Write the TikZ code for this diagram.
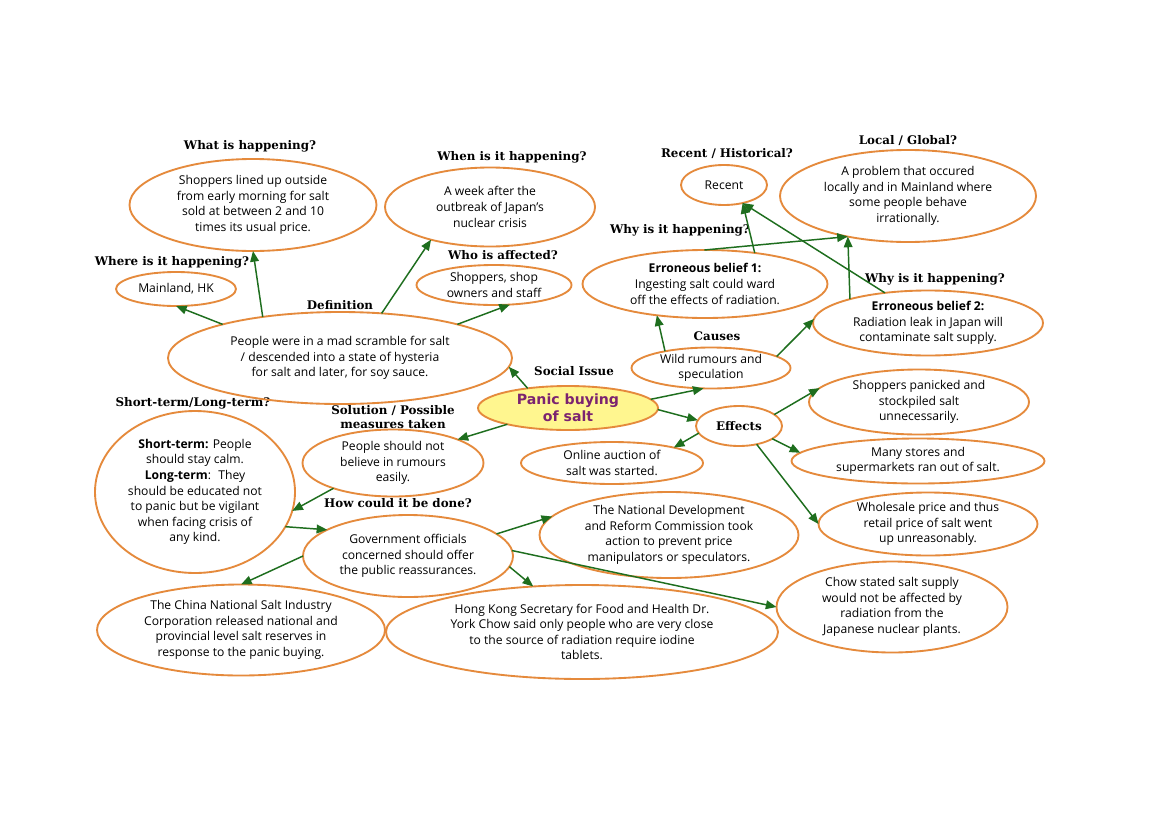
\documentclass[tikz,border=0pt]{standalone}
\usepackage{fontspec}
\setmainfont{Open Sans}
\newfontfamily\lblfont{DejaVu Serif}
\newfontfamily\panicfont{DejaVu Sans}
\usetikzlibrary{shapes.geometric,arrows.meta}
\definecolor{orng}{HTML}{E58A3C}
\definecolor{arrg}{HTML}{1E6E1E}
\definecolor{purp}{HTML}{7B2370}
\definecolor{yel}{HTML}{FFF68F}
\begin{document}
\begin{tikzpicture}[x=0.75pt,y=-0.75pt,
  ell/.style 2 args={ellipse, draw=orng, line width=1.4pt, minimum width=#1*0.75pt, minimum height=#2*0.75pt, inner sep=0pt, outer sep=0pt},
  txt/.style={font=\fontsize{9.1}{11.7}\selectfont, align=center, inner sep=0pt, text=black},
  lbl/.style={font=\lblfont\bfseries\fontsize{8.9}{10.6}\selectfont, align=center, inner sep=0pt, text=black},
  ptxt/.style={font=\panicfont\bfseries\fontsize{10.6}{12.8}\selectfont, align=center, inner sep=0pt, text=purp},
  arr/.style={draw=arrg, line width=1.1pt, -{Triangle[length=8pt,width=6.5pt]}},
]
\fill[white] (0,0) rectangle (1169,821);
\useasboundingbox (0,0) rectangle (1169,821);

% question labels
\node[lbl] (q1) at (250,146) {What is happening?};
\node[lbl] (q2) at (172,262) {Where is it happening?};
\node[lbl] (q3) at (512,157) {When is it happening?};
\node[lbl] (q4) at (503,255) {Who is affected?};
\node[lbl] (q5) at (340,305) {Definition};
\node[lbl] (q6) at (727,154) {Recent / Historical?};
\node[lbl] (q7) at (908,141) {Local / Global?};
\node[lbl] (q8) at (680,230) {Why is it happening?};
\node[lbl] (q9) at (935,279) {Why is it happening?};
\node[lbl] (q10) at (717,336) {Causes};
\node[lbl] (q11) at (574,371) {Social Issue};
\node[lbl] (q12) at (193,403) {Short-term/Long-term?};
\node[lbl] (q13) at (393,417) {Solution / Possible\\measures taken};
\node[lbl] (q14) at (398,503) {How could it be done?};

% ellipses
\node[ell={247}{92}, label={[txt]center:{Shoppers lined up outside\\from early morning for salt\\sold at between 2 and 10\\times its usual price.}}] (what) at (253,205) {};
\node[ell={120}{34}, label={[txt]center:{Mainland, HK}}] (mainland) at (176,289) {};
\node[ell={210}{79}, label={[txt]center:{A week after the\\outbreak of Japan's\\nuclear crisis}}] (when) at (490,207) {};
\node[ell={155}{40}, label={[txt]center:{Shoppers, shop\\owners and staff}}] (who) at (494,285) {};
\node[ell={344}{92}, label={[txt]center:{People were in a mad scramble for salt\\/ descended into a state of hysteria\\for salt and later, for soy sauce.}}] (def) at (340,358) {};
\node[ell={86}{40}, label={[txt]center:{Recent}}] (recent) at (724,185) {};
\node[ell={256}{92}, label={[txt]center:{A problem that occured\\locally and in Mainland where\\some people behave\\irrationally.}}] (local) at (908,196) {};
\node[ell={245}{68}, label={[txt]center:{\textbf{Erroneous belief 1:}\\Ingesting salt could ward\\off the effects of radiation.}}] (bel1) at (705,284) {};
\node[ell={230}{65}, label={[txt]center:{\textbf{Erroneous belief 2:}\\Radiation leak in Japan will\\contaminate salt supply.}}] (bel2) at (928,323) {};
\node[ell={159}{41}, label={[txt]center:{Wild rumours and\\speculation}}] (wild) at (711,368) {};
\node[ell={180}{44}, fill=yel, label={[ptxt]center:{Panic buying\\of salt}}] (panic) at (568,408) {};
\node[ell={86}{40}, label={[lbl]center:{Effects}}] (effects) at (739,426) {};
\node[ell={220}{65}, label={[txt]center:{Shoppers panicked and\\stockpiled salt\\unnecessarily.}}] (shop) at (919,402) {};
\node[ell={253}{45}, label={[txt]center:{Many stores and\\supermarkets ran out of salt.}}] (stores) at (918,461) {};
\node[ell={219}{63}, label={[txt]center:{Wholesale price and thus\\retail price of salt went\\up unreasonably.}}] (whole) at (928,524) {};
\node[ell={182}{42}, label={[txt]center:{Online auction of\\salt was started.}}] (online) at (612,463) {};
\node[ell={181}{67}, label={[txt]center:{People should not\\believe in rumours\\easily.}}] (sol) at (393,463) {};
\node[ell={200}{162}, label={[txt]center:{\textbf{Short-term:} People\\should stay calm.\\\textbf{Long-term}:~ They\\should be educated not\\to panic but be vigilant\\when facing crisis of\\any kind.}}] (short) at (195,492) {};
\node[ell={210}{82}, label={[txt]center:{Government officials\\concerned should offer\\the public reassurances.}}] (gov) at (408,556) {};
\node[ell={259}{86}, label={[txt]center:{The National Development\\and Reform Commission took\\action to prevent price\\manipulators or speculators.}}] (ndrc) at (669,535) {};
\node[ell={288}{91}, label={[txt]center:{The China National Salt Industry\\Corporation released national and\\provincial level salt reserves in\\response to the panic buying.}}] (china) at (241,630) {};
\node[ell={392}{94}, label={[txt]center:{Hong Kong Secretary for Food and Health Dr.\\York Chow said only people who are very close\\to the source of radiation require iodine\\tablets.}}] (hk) at (582,632) {};
\node[ell={231}{91}, label={[txt]center:{Chow stated salt supply\\would not be affected by\\radiation from the\\Japanese nuclear plants.}}] (chow) at (892,607) {};

% connectors
\draw[arr] (def.152) -- (what.270);
\draw[arr] (def.164) -- (mainland.south);
\draw[arr] (def.47) -- (when.209);
\draw[arr] (def.16) -- (who.-51);
\draw[arr] (panic.154) -- (def.-3);
\draw[arr] (panic.6) -- (wild.250);
\draw[arr] (wild.160) -- (bel1.-147);
\draw[arr] (wild.10) -- (bel2.178);
\draw[arr] (bel1.32) -- (recent.-44);
\draw[arr] (bel1.91) -- (local.-146);
\draw[arr] (bel2.163) -- (local.-146);
\draw[arr] (bel2.145) -- (recent.-44);
\draw[arr] (panic.-1) -- (effects.172);
\draw[arr] (effects.18) -- (shop.172);
\draw[arr] (effects.-21) -- (stores.176);
\draw[arr] (effects.-46) -- (whole.180);
\draw[arr] (effects.190) -- (online.14);
\draw[arr] (panic.195) -- (sol.20);
\draw[arr] (sol.-157) -- (short.-11);
\draw[arr] (short.-21) -- (gov.162);
\draw[arr] (gov.14) -- (ndrc.171);
\draw[arr] (gov.180) -- (china.north);
\draw[arr] (gov.-6) -- (hk.137);
\draw[arr] (gov.3) -- (chow.180);
\end{tikzpicture}
\end{document}
